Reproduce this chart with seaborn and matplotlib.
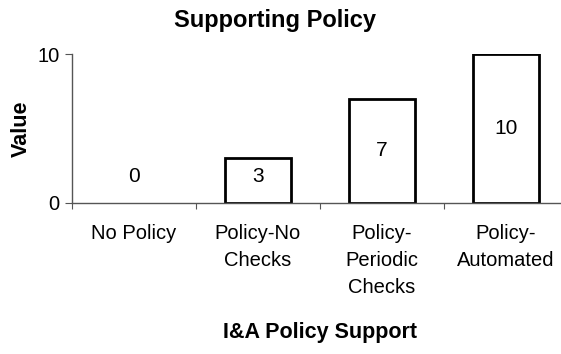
import pandas as pd
import seaborn as sns
import matplotlib.pyplot as plt
import numpy as np

categories = ["No Policy", "Policy-No\nChecks", "Policy-\nPeriodic\nChecks", "Policy-\nAutomated"]
values = [0, 3, 7, 10]

df = pd.DataFrame({"category": categories, "value": values})

sns.set_theme(style="white")
plt.rcParams["font.family"] = ["Liberation Sans", "DejaVu Sans"]
plt.rcParams["text.color"] = "black"
plt.rcParams["axes.labelcolor"] = "black"
plt.rcParams["xtick.color"] = "black"
plt.rcParams["ytick.color"] = "black"

fig = plt.figure(figsize=(5.61, 3.54), dpi=100)
ax = fig.add_axes([72 / 561, 1 - 203 / 354, 496 / 561, 149 / 354])

sns.barplot(data=df, x="category", y="value", ax=ax, color="white",
            edgecolor="black", linewidth=2, width=0.54)
for p, v in zip(ax.patches, values):
    if v == 0:
        p.set_linewidth(0)

for i, v in enumerate(values):
    ax.text(i, max(v / 2, 1.75), str(v), ha="center", va="center", fontsize=15, color="black")

ax.set_xlim(-0.5, 3.5)
ax.set_ylim(0, 10)
ax.set_yticks([0, 10])
ax.set_xticks(np.arange(-0.5, 3.5, 1.0), minor=True)
ax.set_xticks(range(len(categories)))
ax.set_xticklabels(categories, fontsize=14.5, linespacing=1.55)
ax.tick_params(axis="x", which="major", bottom=False, length=0, pad=15)
ax.tick_params(axis="x", which="minor", bottom=True, length=4, width=0.8, color="#555555", direction="out")
ax.tick_params(axis="y", left=True, length=5, width=0.8, color="#555555", direction="out", labelsize=14.5, pad=4)

for s in ["top", "right"]:
    ax.spines[s].set_visible(False)
for s in ["left", "bottom"]:
    ax.spines[s].set_color("#555555")
    ax.spines[s].set_linewidth(1)

ax.set_xlabel("I&A Policy Support", fontsize=15.5, fontweight="bold", labelpad=18)
ax.set_ylabel("Value", fontsize=15.5, fontweight="bold")
ax.yaxis.set_label_coords(-40 / 496, 0.5)
fig.text(275 / 561, 1 - 21 / 354, "Supporting Policy", ha="center", va="center",
         fontsize=17, fontweight="bold")

fig.savefig("out.png", dpi=100)
